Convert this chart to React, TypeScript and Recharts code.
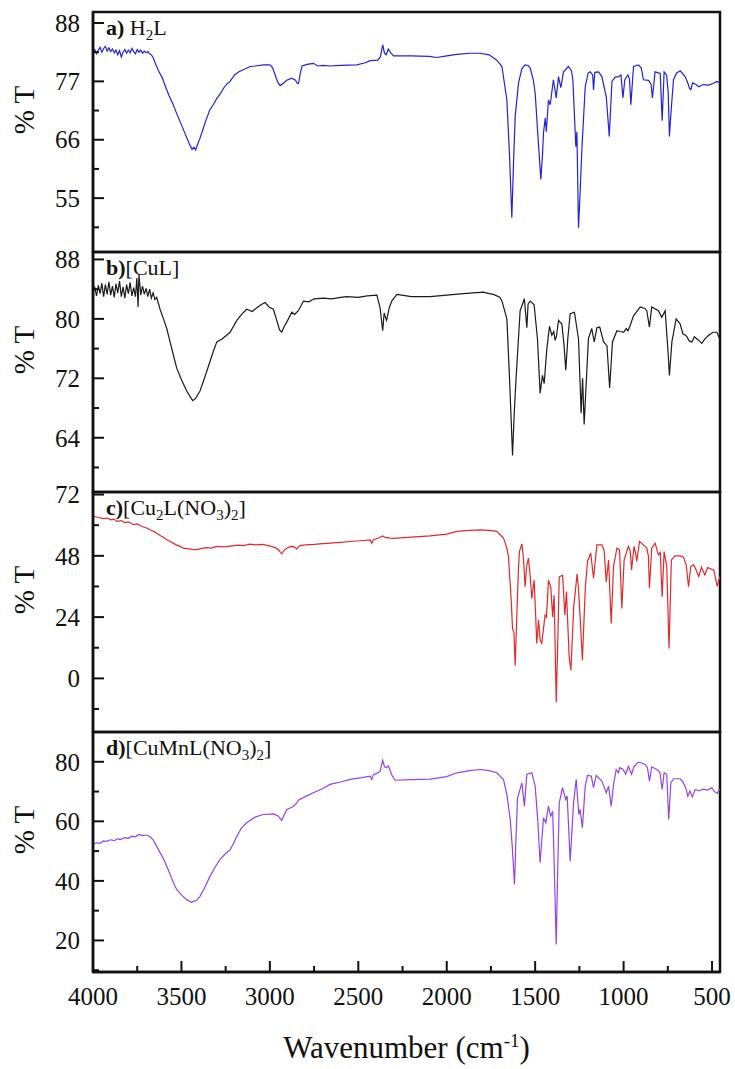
import React from 'react';
import { LineChart, Line, XAxis, YAxis, Label, ReferenceArea } from 'recharts';

// wavenumber (cm-1), %T
const h2l: [number, number][] = [
  [4000, 82.4], [3990, 83.0], [3980, 82.2], [3970, 82.9], [3960, 83.4], [3950, 82.5], [3940, 83.2], [3930, 83.6],
  [3920, 82.7], [3910, 83.3], [3900, 82.6], [3890, 83.1], [3880, 82.4], [3870, 82.9], [3860, 82.0], [3850, 82.8],
  [3840, 81.6], [3830, 82.5], [3820, 83.0], [3810, 82.3], [3800, 82.9], [3790, 82.4], [3780, 83.2], [3770, 82.6],
  [3760, 82.2], [3750, 83.0], [3740, 82.5], [3730, 82.9], [3720, 82.3], [3710, 82.7], [3700, 82.4], [3690, 82.6],
  [3680, 82.2], [3670, 82.0], [3660, 81.5], [3650, 80.6], [3630, 79.0], [3610, 77.8], [3590, 76.0], [3570, 74.3],
  [3550, 72.9], [3530, 71.2], [3510, 69.6], [3490, 68.0], [3470, 66.4], [3455, 65.2], [3440, 64.2], [3430, 64.6],
  [3420, 64.1], [3410, 65.0], [3395, 66.3], [3380, 67.8], [3360, 69.8], [3340, 71.6], [3320, 72.6], [3300, 73.8],
  [3280, 74.7], [3260, 75.8], [3240, 76.6], [3225, 77.0], [3200, 78.2], [3175, 78.8], [3150, 79.2], [3112, 79.8],
  [3080, 79.9], [3037, 80.1], [3000, 80.1], [2985, 79.6], [2970, 78.2], [2955, 76.8], [2942, 76.2], [2925, 76.6],
  [2905, 77.2], [2876, 77.6], [2855, 77.2], [2845, 76.6], [2838, 76.6], [2828, 78.5], [2818, 79.9], [2790, 80.2],
  [2754, 80.4], [2730, 79.9], [2700, 80.0], [2660, 79.9], [2600, 80.0], [2509, 80.1], [2460, 80.5], [2433, 80.9],
  [2390, 81.0], [2375, 81.6], [2362, 83.9], [2352, 82.3], [2343, 82.0], [2330, 83.1], [2315, 82.3], [2301, 81.8],
  [2200, 81.8], [2100, 81.7], [2056, 81.5], [2000, 81.8], [1943, 82.1], [1870, 82.3], [1811, 82.3], [1760, 82.0],
  [1717, 81.0], [1688, 79.8], [1660, 73.5], [1645, 63.0], [1632, 51.3], [1622, 62.0], [1613, 70.4], [1594, 76.7],
  [1575, 79.4], [1557, 80.1], [1540, 80.0], [1528, 79.5], [1510, 77.2], [1500, 74.8], [1485, 67.0], [1468, 58.5],
  [1458, 63.5], [1453, 67.3], [1443, 70.1], [1437, 67.5], [1425, 73.5], [1415, 72.6], [1397, 77.3], [1381, 73.9],
  [1368, 77.9], [1355, 75.8], [1340, 78.8], [1312, 79.8], [1295, 79.0], [1287, 77.3], [1270, 64.7], [1264, 67.5],
  [1255, 49.4], [1246, 56.0], [1236, 64.1], [1217, 76.0], [1200, 78.6], [1189, 78.8], [1175, 78.2], [1170, 75.4],
  [1163, 78.7], [1142, 78.8], [1123, 77.9], [1098, 74.1], [1081, 66.6], [1066, 77.0], [1047, 77.8], [1028, 77.9],
  [1015, 78.2], [1004, 73.9], [993, 77.3], [976, 78.2], [967, 77.5], [959, 72.6], [944, 79.8], [916, 80.1],
  [900, 79.5], [888, 77.3], [859, 77.2], [845, 76.5], [837, 73.9], [822, 78.8], [793, 78.5], [782, 69.6],
  [771, 78.8], [757, 78.2], [748, 75.0], [741, 66.6], [733, 70.7], [718, 77.3], [700, 78.6], [680, 79.0],
  [652, 77.9], [635, 76.5], [628, 75.7], [620, 75.4], [610, 76.7], [590, 76.4], [575, 76.0], [550, 76.4],
  [519, 76.3], [495, 76.6], [473, 77.0], [455, 76.7],
];

const cuL: [number, number][] = [
  [4000, 83.6], [3990, 84.2], [3980, 83.1], [3970, 84.5], [3960, 83.4], [3950, 84.8], [3940, 83.0], [3930, 84.6],
  [3920, 83.3], [3910, 85.0], [3900, 83.2], [3890, 84.4], [3880, 82.9], [3870, 84.7], [3860, 83.5], [3850, 85.1],
  [3840, 83.0], [3830, 84.3], [3820, 82.8], [3810, 84.6], [3800, 83.4], [3790, 84.9], [3780, 83.1], [3770, 84.2],
  [3760, 83.0], [3752, 85.5], [3745, 81.6], [3740, 86.0], [3730, 83.2], [3720, 84.4], [3710, 83.3], [3700, 84.1],
  [3690, 83.0], [3680, 84.0], [3670, 82.8], [3660, 83.5], [3650, 82.6], [3640, 82.9], [3621, 81.3], [3600, 79.9],
  [3583, 78.7], [3560, 76.5], [3540, 74.6], [3527, 73.4], [3500, 71.8], [3470, 70.3], [3450, 69.5], [3436, 69.0],
  [3420, 69.3], [3395, 70.3], [3370, 72.0], [3338, 74.3], [3320, 75.6], [3300, 76.9], [3270, 77.3], [3240, 77.9],
  [3225, 78.2], [3187, 79.8], [3160, 80.6], [3131, 81.3], [3100, 81.0], [3074, 81.5], [3050, 81.9], [3027, 82.2],
  [3005, 81.6], [2980, 81.3], [2961, 79.8], [2945, 78.5], [2933, 78.2], [2920, 78.9], [2904, 79.6], [2876, 80.9],
  [2860, 80.6], [2839, 81.1], [2810, 82.4], [2780, 82.3], [2750, 82.7], [2697, 82.8], [2650, 82.7], [2600, 82.9],
  [2565, 83.0], [2500, 82.9], [2450, 83.1], [2395, 83.2], [2377, 81.5], [2362, 78.4], [2354, 80.8], [2349, 80.4],
  [2340, 79.8], [2325, 81.5], [2311, 82.4], [2282, 83.3], [2200, 83.0], [2094, 83.0], [2000, 83.2], [1906, 83.4],
  [1850, 83.5], [1793, 83.6], [1760, 83.4], [1736, 83.3], [1700, 82.9], [1688, 82.4], [1660, 80.0], [1645, 72.0],
  [1628, 61.6], [1618, 67.5], [1608, 72.0], [1585, 81.1], [1561, 82.7], [1547, 78.8], [1540, 82.0], [1528, 82.4],
  [1506, 81.9], [1487, 77.3], [1472, 70.0], [1459, 72.4], [1449, 71.3], [1434, 76.0], [1419, 79.0], [1406, 77.8],
  [1395, 78.3], [1387, 77.1], [1380, 77.6], [1368, 79.8], [1349, 79.3], [1337, 76.5], [1327, 73.1], [1315, 77.5],
  [1302, 80.7], [1278, 80.9], [1255, 77.3], [1240, 67.3], [1232, 72.0], [1223, 65.8], [1210, 72.0], [1199, 77.3],
  [1180, 78.7], [1166, 76.9], [1151, 78.8], [1135, 78.9], [1113, 76.9], [1094, 76.4], [1079, 70.7], [1063, 76.9],
  [1038, 78.4], [1020, 78.3], [1000, 78.2], [985, 78.7], [975, 78.4], [963, 79.1], [944, 80.4], [906, 81.6],
  [880, 81.4], [869, 81.1], [854, 78.9], [841, 81.6], [803, 81.1], [784, 80.2], [765, 81.1], [750, 76.0],
  [741, 72.4], [727, 76.9], [703, 80.0], [680, 79.3], [665, 78.0], [650, 77.8], [643, 77.6], [628, 77.0],
  [614, 76.9], [600, 77.6], [580, 77.2], [558, 76.7], [540, 77.3], [519, 77.8], [495, 78.2], [473, 78.2],
  [460, 77.5], [455, 77.1],
];

const cu2L: [number, number][] = [
  [4000, 63.5], [3970, 63.0], [3940, 62.6], [3920, 62.8], [3900, 62.1], [3880, 62.4], [3866, 61.5], [3840, 61.8],
  [3820, 61.0], [3800, 61.3], [3772, 60.2], [3750, 60.5], [3720, 59.4], [3700, 59.0], [3678, 58.2], [3650, 57.3],
  [3620, 56.0], [3600, 55.2], [3583, 54.3], [3560, 53.5], [3530, 52.3], [3510, 51.8], [3489, 51.0], [3460, 50.7],
  [3440, 50.5], [3414, 50.4], [3390, 50.8], [3360, 51.2], [3330, 51.0], [3300, 51.7], [3260, 51.5], [3225, 51.8],
  [3180, 52.2], [3150, 52.0], [3112, 52.6], [3080, 52.3], [3040, 52.5], [2999, 51.8], [2970, 51.2], [2952, 50.4],
  [2933, 48.8], [2918, 50.3], [2904, 51.0], [2885, 51.6], [2867, 51.7], [2848, 50.7], [2830, 52.0], [2800, 52.3],
  [2750, 52.5], [2700, 52.8], [2660, 53.0], [2600, 53.3], [2530, 53.7], [2471, 54.0], [2433, 54.2], [2424, 52.9],
  [2415, 54.2], [2390, 54.9], [2362, 55.8], [2348, 55.2], [2320, 54.9], [2301, 54.8], [2200, 55.3], [2094, 55.8],
  [2000, 56.5], [1943, 57.6], [1870, 58.0], [1811, 58.2], [1760, 58.0], [1717, 57.6], [1679, 55.0], [1660, 51.0],
  [1651, 47.7], [1635, 30.0], [1628, 19.5], [1620, 17.8], [1613, 5.1], [1605, 22.0], [1595, 42.0], [1589, 49.7],
  [1575, 52.7], [1565, 46.0], [1557, 35.9], [1548, 44.0], [1538, 47.1], [1528, 40.0], [1519, 31.3], [1506, 38.5],
  [1498, 26.0], [1491, 13.7], [1481, 22.8], [1472, 15.0], [1463, 13.7], [1452, 20.0], [1444, 24.8], [1436, 24.0],
  [1425, 38.5], [1412, 35.9], [1401, 24.1], [1393, 32.6], [1387, 12.0], [1381, -9.3], [1372, 15.0], [1364, 39.8],
  [1345, 40.4], [1332, 24.8], [1323, 34.0], [1308, 8.4], [1298, 3.2], [1282, 28.0], [1263, 40.9], [1255, 35.0],
  [1246, 24.1], [1233, 7.1], [1217, 35.0], [1204, 45.8], [1186, 49.1], [1170, 39.2], [1151, 52.3], [1123, 52.3],
  [1110, 50.0], [1098, 37.8], [1085, 46.4], [1070, 21.5], [1057, 43.8], [1038, 51.0], [1023, 50.4], [1010, 27.4],
  [997, 46.4], [973, 51.7], [963, 50.0], [955, 42.5], [941, 51.7], [932, 49.0], [926, 45.8], [910, 53.6],
  [888, 52.3], [869, 51.0], [860, 48.0], [854, 35.3], [841, 51.0], [822, 53.0], [803, 48.4], [793, 49.3],
  [782, 32.0], [771, 49.7], [756, 43.8], [743, 11.7], [730, 46.4], [709, 48.0], [680, 48.0], [661, 47.5],
  [646, 44.5], [633, 35.9], [620, 43.8], [605, 44.5], [595, 43.2], [575, 39.9], [560, 43.5], [541, 40.5],
  [525, 43.4], [505, 42.8], [490, 42.5], [471, 36.0], [462, 38.5], [455, 39.9],
];

const cuMnL: [number, number][] = [
  [4000, 52.2], [3980, 52.8], [3960, 52.6], [3940, 53.4], [3925, 53.3], [3900, 53.8], [3880, 53.5], [3860, 54.2],
  [3847, 53.9], [3820, 54.5], [3800, 54.3], [3780, 55.0], [3760, 54.8], [3740, 55.6], [3720, 55.2], [3700, 55.4],
  [3678, 54.9], [3660, 53.8], [3640, 51.6], [3620, 49.4], [3600, 47.3], [3583, 44.9], [3560, 41.6], [3540, 38.7],
  [3527, 37.1], [3500, 35.3], [3470, 33.7], [3455, 33.2], [3442, 32.8], [3430, 33.2], [3415, 33.4], [3395, 34.8],
  [3370, 37.6], [3338, 41.6], [3310, 44.6], [3282, 47.2], [3250, 49.2], [3225, 50.4], [3200, 53.2], [3187, 55.0],
  [3160, 57.8], [3131, 59.5], [3100, 60.8], [3080, 61.5], [3037, 62.3], [3000, 62.4], [2980, 62.5], [2955, 61.9],
  [2933, 60.3], [2918, 62.3], [2904, 64.0], [2885, 64.5], [2867, 65.0], [2850, 66.0], [2839, 67.1], [2800, 68.3],
  [2754, 69.6], [2700, 71.0], [2660, 72.4], [2600, 73.2], [2546, 74.1], [2480, 74.7], [2433, 75.2], [2424, 74.1],
  [2415, 75.6], [2395, 76.1], [2377, 76.8], [2362, 80.5], [2352, 78.4], [2343, 78.0], [2330, 78.6], [2310, 75.5],
  [2292, 73.8], [2200, 74.0], [2094, 74.2], [2000, 75.0], [1943, 76.3], [1870, 77.0], [1811, 77.4], [1760, 77.0],
  [1717, 76.3], [1679, 74.0], [1660, 69.0], [1641, 60.6], [1630, 52.0], [1617, 38.8], [1608, 55.0], [1600, 67.7],
  [1575, 72.9], [1561, 65.1], [1547, 75.8], [1519, 76.3], [1500, 71.8], [1485, 60.0], [1472, 46.1], [1453, 61.2],
  [1440, 59.5], [1425, 65.1], [1412, 61.7], [1401, 63.4], [1392, 45.0], [1381, 18.6], [1372, 45.0], [1364, 66.2],
  [1345, 71.3], [1327, 67.3], [1319, 68.5], [1302, 46.6], [1283, 66.2], [1268, 74.1], [1253, 62.3], [1246, 64.0],
  [1233, 57.8], [1217, 71.8], [1204, 75.4], [1183, 75.2], [1170, 71.3], [1155, 75.4], [1123, 73.5], [1098, 69.6],
  [1085, 71.8], [1070, 65.1], [1057, 72.4], [1042, 77.4], [1030, 76.3], [1021, 78.0], [1002, 77.4], [988, 75.8],
  [973, 78.5], [955, 75.8], [941, 78.5], [916, 79.9], [895, 79.5], [878, 79.1], [865, 78.0], [854, 73.5],
  [841, 78.3], [812, 77.4], [795, 76.5], [782, 70.7], [771, 76.3], [756, 75.8], [745, 60.6], [733, 72.9],
  [718, 74.3], [680, 74.3], [661, 72.9], [645, 70.5], [637, 68.4], [625, 70.2], [612, 68.2], [595, 70.7],
  [575, 70.2], [550, 70.8], [525, 70.5], [501, 71.3], [490, 70.2], [471, 69.3], [460, 70.7], [455, 70.5],
];

const xMajor = [4000, 3500, 3000, 2500, 2000, 1500, 1000, 500];
const xMinor = [3750, 3250, 2750, 2250, 1750, 1250, 750];

const SERIF = '"Liberation Serif", "Times New Roman", Times, serif';
const INK = '#111';
const X_DOMAIN: [number, number] = [455, 4000];
const serifStyle = { fontFamily: SERIF };

type Seg = { t: string; b?: boolean; sub?: boolean };

const panels = [
  {
    key: 'a', data: h2l, color: '#2323d6', top: 12, domain: [44.85, 90.07] as [number, number],
    major: [55, 66, 77, 88], minor: [49.5, 60.5, 71.5, 82.5],
    label: [{ t: 'a)', b: true }, { t: ' H' }, { t: '2', sub: true }, { t: 'L' }] as Seg[],
  },
  {
    key: 'b', data: cuL, color: '#1a1a1a', top: 252, domain: [56.7, 89.0] as [number, number],
    major: [64, 72, 80, 88], minor: [60, 68, 76, 84],
    label: [{ t: 'b)', b: true }, { t: '[CuL]' }] as Seg[],
  },
  {
    key: 'c', data: cu2L, color: '#e3282c', top: 492, domain: [-21, 73] as [number, number],
    major: [0, 24, 48, 72], minor: [-12, 12, 36, 60],
    label: [{ t: 'c)', b: true }, { t: '[Cu' }, { t: '2', sub: true }, { t: 'L(NO' }, { t: '3', sub: true },
      { t: ')' }, { t: '2', sub: true }, { t: ']' }] as Seg[],
  },
  {
    key: 'd', data: cuMnL, color: '#9245e6', top: 732, domain: [9.4, 90] as [number, number],
    major: [20, 40, 60, 80], minor: [10, 30, 50, 70],
    label: [{ t: 'd)', b: true }, { t: '[CuMnL(NO' }, { t: '3', sub: true }, { t: ')' }, { t: '2', sub: true },
      { t: ']' }] as Seg[],
  },
];

const YTick = (props: any) => {
  const { x, y, payload, major } = props;
  const isMajor = major.includes(payload.value);
  return (
    <g>
      <line x1={x} y1={y} x2={x + (isMajor ? 11 : 6)} y2={y} stroke={INK} strokeWidth={2} />
      {isMajor && (
        <text x={x - 13} y={y} dy="0.35em" textAnchor="end" fontSize={25} style={serifStyle} fill={INK}>
          {payload.value}
        </text>
      )}
    </g>
  );
};

const XTick = (props: any) => {
  const { x, y, payload } = props;
  const isMajor = xMajor.includes(payload.value);
  return (
    <g>
      <line x1={x} y1={y} x2={x} y2={y - (isMajor ? 11 : 6)} stroke={INK} strokeWidth={2} />
      {isMajor && (
        <text x={x} y={y + 33} textAnchor="middle" fontSize={25} style={serifStyle} fill={INK}>
          {payload.value}
        </text>
      )}
    </g>
  );
};

const PanelTexts = ({ segs }: { segs: Seg[] }) => {
  let prevSub = false;
  return (
    <g>
      <text x={34} y={110} transform="rotate(-90 34 110)" textAnchor="middle" fontSize={29}
        style={serifStyle} fill={INK}>
        % T
      </text>
      <text x={106} y={35} fontSize={22} style={serifStyle} fill={INK}>
        {segs.map((s, i) => {
          const dy = s.sub ? (prevSub ? 0 : 5) : prevSub ? -5 : 0;
          prevSub = !!s.sub;
          return (
            <tspan key={i} dy={dy} fontWeight={s.b ? 'bold' : 'normal'} fontSize={s.sub ? 15 : 22}
              style={{ whiteSpace: 'pre' }}>
              {s.t}
            </tspan>
          );
        })}
      </text>
    </g>
  );
};

const Panel = ({ p, bottom }: { p: (typeof panels)[number]; bottom: boolean }) => {
  const rows = p.data.map(([wn, t]) => ({ wn, t }));
  const yTicks = [...p.major, ...p.minor].sort((a, b) => a - b);
  return (
    <div style={{ position: 'absolute', left: 0, top: p.top - 12 }}>
      <LineChart width={735} height={bottom ? 349 : 264} data={rows}
        margin={{ top: 12, right: 15, bottom: bottom ? 0 : 12, left: 0 }}>
        <XAxis dataKey="wn" type="number" domain={X_DOMAIN} reversed allowDataOverflow hide={!bottom}
          ticks={[...xMajor, ...xMinor]} interval={0}
          height={bottom ? 97 : 0} tickSize={0} tickMargin={0} tickLine={false}
          tick={(t: any) => <XTick {...t} />} axisLine={{ stroke: INK, strokeWidth: 2.5 }}>
          {bottom && (
            <Label content={() => (
              <text x={406.5} y={338} textAnchor="middle" fontSize={31} style={serifStyle} fill={INK}>
                Wavenumber (cm
                <tspan dy={-11} fontSize={19}>-1</tspan>
                <tspan dy={11}>)</tspan>
              </text>
            )} />
          )}
        </XAxis>
        <YAxis type="number" domain={p.domain} allowDataOverflow ticks={yTicks} interval={0} width={93}
          tickSize={0} tickMargin={0} tickLine={false} axisLine={{ stroke: INK, strokeWidth: 2.5 }}
          tick={(t: any) => <YTick {...t} major={p.major} />}>
          <Label content={() => <PanelTexts segs={p.label} />} />
        </YAxis>
        <ReferenceArea x1={X_DOMAIN[1]} x2={X_DOMAIN[0]} y1={p.domain[0]} y2={p.domain[1]}
          ifOverflow="visible" fill="none" fillOpacity={0} stroke={INK} strokeWidth={2.5} />
        <Line type="linear" dataKey="t" stroke={p.color} strokeWidth={1.2} dot={false}
          isAnimationActive={false} />
      </LineChart>
    </div>
  );
}

export default function App() {
  return (
    <div style={{ position: 'absolute', left: 0, top: 0, width: 735, height: 1069, background: '#fff' }}>
      {panels.map((p, i) => (
        <Panel key={p.key} p={p} bottom={i === panels.length - 1} />
      ))}
    </div>
  );
}
